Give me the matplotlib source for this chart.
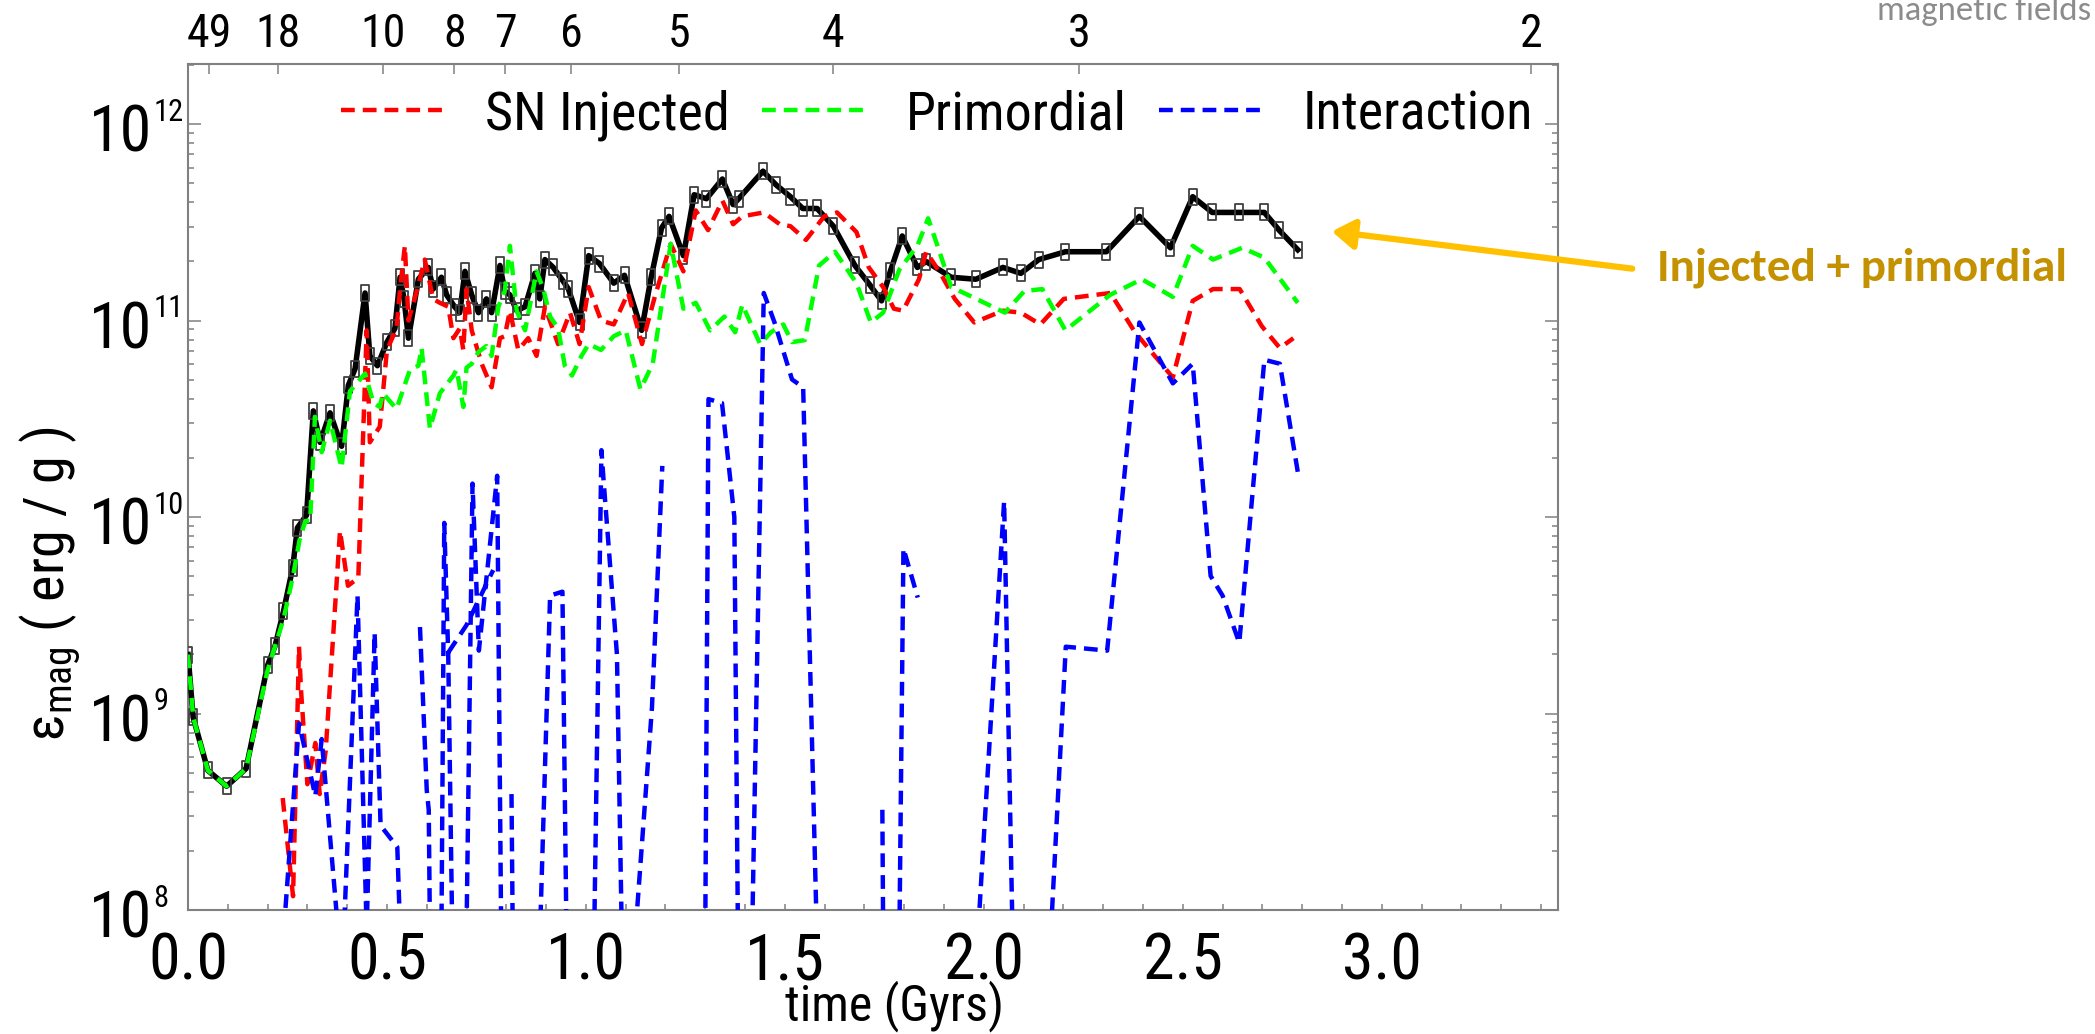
# magnetic energy per unit mass vs time, split into SN injected / primordial / interaction
import numpy as np
import matplotlib.pyplot as plt
import matplotlib.transforms as mtransforms
from matplotlib.patches import FancyArrowPatch
from matplotlib.path import Path
from matplotlib.ticker import MultipleLocator, FixedLocator, LogLocator, NullFormatter

FONT = ["Roboto Condensed", "Liberation Sans", "DejaVu Sans"]
plt.rcParams["font.family"] = FONT
plt.rcParams["mathtext.fontset"] = "custom"
plt.rcParams["mathtext.rm"] = "Roboto Condensed"
plt.rcParams["mathtext.it"] = "Roboto Condensed:italic"
plt.rcParams["mathtext.bf"] = "Roboto Condensed:bold"

# ========================================
# data: (time in Gyr, log10 eps_mag in erg/g)
# ========================================
total = [
    (0.0, 9.30), (0.013, 8.98), (0.05, 8.71), (0.097, 8.63), (0.146, 8.72),
    (0.20, 9.245), (0.219, 9.345), (0.24, 9.52), (0.263, 9.74), (0.275, 9.945),
    (0.298, 10.01), (0.315, 10.54), (0.332, 10.38), (0.357, 10.53), (0.386, 10.36),
    (0.403, 10.67), (0.42, 10.755), (0.445, 11.14), (0.457, 10.82), (0.476, 10.77),
    (0.50, 10.89), (0.52, 10.96), (0.533, 11.22), (0.543, 11.11), (0.554, 10.91),
    (0.579, 11.21), (0.604, 11.27), (0.616, 11.16), (0.637, 11.22), (0.65, 11.13),
    (0.67, 11.07), (0.683, 11.04), (0.696, 11.25), (0.713, 11.13), (0.73, 11.04),
    (0.75, 11.11), (0.763, 11.04), (0.784, 11.28), (0.796, 11.15), (0.809, 11.13),
    (0.826, 11.05), (0.847, 11.07), (0.872, 11.24), (0.884, 11.11), (0.897, 11.31),
    (0.918, 11.27), (0.943, 11.20), (0.956, 11.16), (0.984, 10.99), (1.007, 11.33),
    (1.034, 11.29), (1.07, 11.19), (1.097, 11.23), (1.14, 10.95), (1.164, 11.22),
    (1.19, 11.47), (1.209, 11.53), (1.245, 11.33), (1.272, 11.64), (1.303, 11.62),
    (1.343, 11.72), (1.37, 11.59), (1.384, 11.62), (1.445, 11.76), (1.478, 11.69),
    (1.514, 11.63), (1.545, 11.57), (1.581, 11.57), (1.622, 11.48), (1.676, 11.28),
    (1.714, 11.18), (1.743, 11.10), (1.765, 11.25), (1.795, 11.43), (1.833, 11.27),
    (1.855, 11.30), (1.918, 11.22), (1.98, 11.21), (2.048, 11.27), (2.093, 11.24),
    (2.138, 11.31), (2.205, 11.35), (2.308, 11.35), (2.391, 11.53), (2.469, 11.37),
    (2.525, 11.63), (2.574, 11.55), (2.641, 11.55), (2.705, 11.55), (2.742, 11.46),
    (2.789, 11.36),
]

sn_injected = [
    (0.238, 8.57), (0.264, 8.07), (0.279, 9.34), (0.284, 9.12), (0.30, 8.64),
    (0.32, 8.85), (0.331, 8.59), (0.346, 8.81), (0.382, 9.93), (0.402, 9.65),
    (0.428, 9.69), (0.449, 10.95), (0.457, 10.38), (0.482, 10.46), (0.50, 10.85),
    (0.524, 10.96), (0.533, 11.16), (0.545, 11.38), (0.554, 11.0), (0.575, 11.15),
    (0.595, 11.31), (0.616, 11.11), (0.633, 11.09), (0.654, 11.07), (0.667, 10.91),
    (0.683, 10.96), (0.692, 10.85), (0.70, 11.16), (0.713, 10.95), (0.738, 10.78),
    (0.763, 10.66), (0.784, 10.91), (0.796, 10.92), (0.809, 11.05), (0.83, 10.85),
    (0.855, 10.91), (0.876, 10.82), (0.897, 11.07), (0.93, 10.88), (0.96, 11.04),
    (0.984, 10.88), (1.007, 11.17), (1.038, 11.0), (1.07, 10.98), (1.106, 11.14),
    (1.141, 10.88), (1.173, 11.12), (1.213, 11.39), (1.245, 11.25), (1.276, 11.56),
    (1.307, 11.46), (1.343, 11.61), (1.37, 11.49), (1.393, 11.53), (1.447, 11.55),
    (1.487, 11.49), (1.514, 11.48), (1.553, 11.41), (1.599, 11.53), (1.631, 11.55),
    (1.68, 11.45), (1.711, 11.27), (1.747, 11.17), (1.774, 11.06), (1.797, 11.05),
    (1.837, 11.21), (1.855, 11.35), (1.891, 11.24), (1.927, 11.11), (1.976, 10.99),
    (2.048, 11.05), (2.093, 11.04), (2.142, 10.98), (2.201, 11.11), (2.318, 11.14),
    (2.38, 10.94), (2.475, 10.71), (2.525, 11.10), (2.576, 11.16), (2.643, 11.16),
    (2.699, 10.97), (2.744, 10.86), (2.778, 10.91),
]

primordial = [
    (0.0, 9.30), (0.013, 8.98), (0.05, 8.71), (0.097, 8.63), (0.146, 8.72),
    (0.20, 9.22), (0.24, 9.48), (0.264, 9.70), (0.28, 9.88), (0.295, 9.98),
    (0.307, 9.98), (0.319, 10.51), (0.336, 10.33), (0.357, 10.49), (0.386, 10.25),
    (0.407, 10.64), (0.445, 10.73), (0.466, 10.58), (0.482, 10.56), (0.49, 10.63),
    (0.524, 10.55), (0.558, 10.75), (0.579, 10.77), (0.587, 10.86), (0.608, 10.45),
    (0.633, 10.63), (0.667, 10.72), (0.675, 10.75), (0.692, 10.56), (0.70, 10.76),
    (0.713, 10.78), (0.73, 10.84), (0.75, 10.87), (0.763, 10.82), (0.78, 11.07),
    (0.796, 11.15), (0.809, 11.38), (0.826, 11.05), (0.847, 10.95), (0.876, 11.25),
    (0.893, 11.16), (0.91, 11.02), (0.93, 10.96), (0.947, 10.77), (0.965, 10.72),
    (0.989, 10.82), (1.007, 10.88), (1.038, 10.85), (1.07, 10.92), (1.10, 10.95),
    (1.137, 10.65), (1.168, 10.78), (1.213, 11.39), (1.245, 11.06), (1.276, 11.09),
    (1.312, 10.95), (1.348, 11.02), (1.375, 10.94), (1.393, 11.08), (1.438, 10.88),
    (1.465, 10.94), (1.496, 10.98), (1.518, 10.89), (1.55, 10.90), (1.586, 11.28),
    (1.626, 11.35), (1.68, 11.19), (1.716, 10.99), (1.747, 11.04), (1.788, 11.26),
    (1.833, 11.38), (1.86, 11.52), (1.887, 11.36), (1.918, 11.17), (1.95, 11.14),
    (2.053, 11.04), (2.102, 11.15), (2.147, 11.16), (2.205, 10.95), (2.317, 11.13),
    (2.397, 11.21), (2.475, 11.12), (2.525, 11.38), (2.576, 11.31), (2.649, 11.37),
    (2.705, 11.32), (2.789, 11.09),
]

# 7.9 = below the plotted range, nan = gap in the curve
nan = np.nan
interaction = [
    (0.241, 7.9), (0.279, 8.95), (0.32, 8.58), (0.336, 8.87), (0.377, 7.9),
    (0.392, 7.9), (0.426, 9.60), (0.449, 7.9), (0.469, 9.41), (0.484, 8.43),
    (0.526, 8.32), (0.533, 7.9), (nan, nan),
    (0.583, 9.44), (0.60, 8.61), (0.605, 8.51), (0.608, 7.9), (0.637, 7.9),
    (0.644, 9.97), (0.654, 9.30), (0.664, 7.9), (nan, nan),
    (0.654, 9.31), (0.70, 9.45), (0.767, 9.73), (nan, nan),
    (0.700, 7.9), (0.715, 10.17), (0.731, 9.32), (0.777, 10.21), (0.787, 7.9), (nan, nan),
    (0.813, 8.59), (0.816, 7.9), (0.885, 7.9), (0.91, 9.60), (0.941, 9.62),
    (0.951, 7.9), (1.021, 7.9), (1.039, 10.34), (1.045, 10.17), (1.078, 9.3),
    (1.09, 7.9), (1.125, 7.9), (1.166, 9.03), (1.192, 10.26), (nan, nan),
    (1.30, 7.9), (1.308, 10.60), (1.342, 10.58), (1.373, 10.0), (1.382, 7.9),
    (1.418, 7.9), (1.447, 11.14), (1.474, 10.99), (1.518, 10.70), (1.546, 10.66),
    (1.58, 7.9), (nan, nan),
    (1.745, 8.51), (1.747, 7.9), (1.788, 7.9), (1.798, 9.84), (1.834, 9.59), (nan, nan),
    (1.986, 7.9), (2.051, 10.08), (2.072, 7.9), (2.169, 7.9), (2.206, 9.34),
    (2.31, 9.32), (2.391, 10.99), (2.475, 10.68), (2.525, 10.78), (2.57, 9.70),
    (2.60, 9.6), (2.642, 9.36), (2.705, 10.80), (2.744, 10.78), (2.789, 10.23),
]

# redshift labels on the top axis
z_labels = ["49", "18", "10", "8", "7", "6", "5", "4", "3", "2"]
z_times = [0.054, 0.227, 0.491, 0.669, 0.797, 0.963, 1.234, 1.622, 2.24, 3.376]

# y tick labels: 10^exp
y_exps = [8, 9, 10, 11, 12]

GRAY = "#808080"
W, H = 2095, 1034

# ========================================
# figure
# ========================================
fig = plt.figure(figsize=(W / 100, H / 100), dpi=100)
ax = fig.add_axes([188 / W, 1 - 910 / H, 1370 / W, 846 / H])


def xy(series):
    arr = np.array(series, dtype=float)
    return arr[:, 0], 10 ** arr[:, 1]


# tall open rectangle marker
rect = Path([(-0.27, -0.5), (0.27, -0.5), (0.27, 0.5), (-0.27, 0.5), (-0.27, -0.5)],
            [Path.MOVETO, Path.LINETO, Path.LINETO, Path.LINETO, Path.CLOSEPOLY])

t, e = xy(total)
ax.plot(t, e, color="black", lw=4.0, marker=rect, markersize=11,
        markerfacecolor="none", markeredgecolor="#404040", markeredgewidth=1.3, zorder=3)

dash = (3.1, 1.8)
t, e = xy(sn_injected)
ax.plot(t, e, color="red", lw=3.2, dashes=dash, label="SN Injected", zorder=4)
t, e = xy(primordial)
ax.plot(t, e, color="#00ff00", lw=3.2, dashes=dash, label="Primordial", zorder=4)
t, e = xy(interaction)
ax.plot(t, e, color="blue", lw=3.2, dashes=dash, label="Interaction", zorder=5)

ax.set_yscale("log")
ax.set_xlim(0, 3.443)
ax.set_ylim(1e8, 2.02e12)

ax.xaxis.set_major_locator(MultipleLocator(0.5))
ax.xaxis.set_minor_locator(MultipleLocator(0.1))
ax.xaxis.set_major_formatter(plt.FormatStrFormatter("%.1f"))
ax.yaxis.set_major_locator(FixedLocator([10.0 ** k for k in y_exps]))
ax.yaxis.set_minor_locator(LogLocator(base=10, subs=np.arange(2, 10), numticks=20))
ax.yaxis.set_major_formatter(NullFormatter())
ax.yaxis.set_minor_formatter(NullFormatter())

ax.tick_params(axis="x", which="both", direction="in", length=4.5, width=1.1,
               color=GRAY, labelsize=46, pad=15, top=False)
ax.tick_params(axis="y", which="major", direction="in", length=9.5, width=1.1,
               color=GRAY, right=True)
ax.tick_params(axis="y", which="minor", direction="in", length=4.5, width=1.1,
               color=GRAY, right=True)
for s in ax.spines.values():
    s.set_color(GRAY)
    s.set_linewidth(1.5)

# y tick labels drawn as "10" plus a small exponent
ylab = mtransforms.blended_transform_factory(ax.transAxes, ax.transData)
for k in y_exps:
    base = mtransforms.offset_copy(ylab, fig=fig, x=-26, y=-7, units="points")
    ax.text(0, 10.0 ** k, "10", transform=base, fontsize=46, ha="right", va="center")
    sup = mtransforms.offset_copy(ylab, fig=fig, x=-25, y=8.5, units="points")
    ax.text(0, 10.0 ** k, str(k), transform=sup, fontsize=22, ha="left", va="center")

ax.set_xlabel("time (Gyrs)", fontsize=36)
ax.xaxis.label.set_va("center")
ax.xaxis.set_label_coords(0.516, (910 - 1006) / 846)
ax.set_ylabel(r"ε$_{\mathrm{mag}}$ ( erg / g )", fontsize=40.5)
ax.yaxis.label.set_va("center")
ax.yaxis.set_label_coords((50 - 188) / 1370, 0.386)

# top axis with redshift
top = ax.twiny()
top.set_xlim(ax.get_xlim())
top.set_xticks(z_times)
top.set_xticklabels(z_labels)
top.tick_params(axis="x", direction="in", length=7, width=1.1, color=GRAY,
                labelsize=33, pad=6)
top.xaxis.set_minor_locator(plt.NullLocator())
for s in top.spines.values():
    s.set_visible(False)

ax.legend(loc="upper left", bbox_to_anchor=(0.112, 0.970), ncol=3, frameon=False,
          fontsize=39, handlelength=1.95, handletextpad=0.7, columnspacing=0.6,
          borderpad=0, borderaxespad=0)

# ========================================
# annotation
# ========================================
arrow = FancyArrowPatch((1635 / W, 1 - 269 / H), (1329 / W, 1 - 231 / H),
                        transform=fig.transFigure, arrowstyle="-|>,head_length=0.45,head_width=0.3",
                        mutation_scale=30, color="#ffc000", lw=4.5)
fig.patches.append(arrow)
fig.text(1657 / W, 1 - 268 / H, "Injected + primordial", color="#c49100",
         fontsize=34, fontweight="bold", family=["Carlito", "Lato"], va="center", ha="left")
fig.text(1877 / W, 1 - 20 / H, "magnetic fields", color="#8c8c8c",
         fontsize=25, family=["Carlito", "Lato"], va="baseline", ha="left")

fig.savefig("out.png", dpi=100)
